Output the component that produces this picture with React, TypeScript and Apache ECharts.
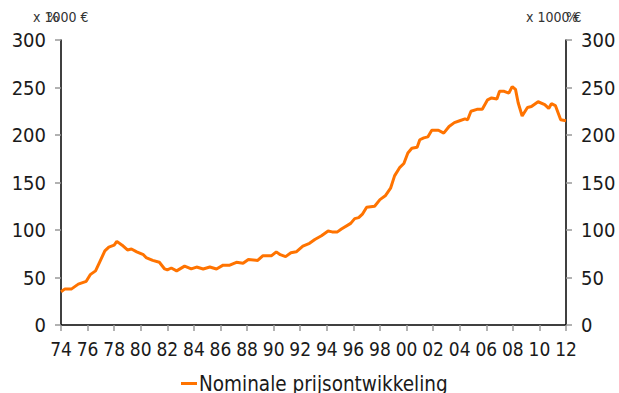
import React, { useEffect, useRef } from "react";
import * as echarts from "echarts";

const periods = [
  1974.0, 1974.3, 1974.8, 1975.3, 1975.9, 1976.2, 1976.6, 1976.9, 1977.3, 1977.6,
  1978.0, 1978.2, 1978.6, 1979.0, 1979.3, 1979.7, 1980.2, 1980.4, 1980.9, 1981.4,
  1981.8, 1982.0, 1982.3, 1982.7, 1983.3, 1983.8, 1984.2, 1984.7, 1985.2, 1985.7,
  1986.2, 1986.7, 1987.2, 1987.7, 1988.1, 1988.8, 1989.2, 1989.85, 1990.2, 1990.5,
  1990.9, 1991.3, 1991.7, 1992.2, 1992.7, 1993.1, 1993.6, 1994.1, 1994.4, 1994.8,
  1995.1, 1995.8, 1996.1, 1996.4, 1996.7, 1997.0, 1997.6, 1998.0, 1998.4, 1998.8,
  1999.1, 1999.5, 1999.8, 2000.1, 2000.4, 2000.8, 2001.0, 2001.3, 2001.6, 2001.9,
  2002.4, 2002.8, 2003.2, 2003.6, 2004.0, 2004.4, 2004.6, 2004.85, 2005.3, 2005.7,
  2006.1, 2006.4, 2006.8, 2007.0, 2007.35, 2007.7, 2007.95, 2008.2, 2008.4, 2008.7,
  2009.1, 2009.4, 2009.9, 2010.4, 2010.7, 2010.9, 2011.2, 2011.6, 2012.0,
];

const prices = [
  35, 38, 38, 43, 46, 53, 57, 66, 78, 82,
  84, 88, 84, 79, 80, 77, 74, 71, 68, 66,
  59, 58, 60, 57, 62, 59, 61, 59, 61, 59,
  63, 63, 66, 65, 69, 68, 73, 73, 77, 74,
  72, 76, 77, 83, 86, 90, 94, 99, 98, 98,
  101, 107, 112, 113, 117, 124, 125, 132, 136, 144,
  157, 166, 170, 181, 186, 187, 195, 197, 198, 205,
  205, 202, 209, 213, 215, 217, 216, 225, 227, 227,
  237, 239, 238, 246, 246, 244, 251, 248, 234, 220,
  229, 230, 235, 232, 228, 233, 231, 216, 215,
];

const seriesName = "Nominale prijsontwikkeling";
const unitLabel = "x 1000 €";
const pctLabel = "%";

export default function App() {
  const ref = useRef<HTMLDivElement>(null);
  useEffect(() => {
    if (!ref.current) return;
    const chart = echarts.init(ref.current, null, { renderer: "svg" });
    const font = "'DejaVu Sans Condensed', 'Liberation Sans', sans-serif";
    const textColor = "#1a1a1a";
    const yAxisCommon = {
      type: "value" as const,
      min: 0,
      max: 300,
      interval: 50,
      splitLine: { show: false },
      axisLine: { show: true, lineStyle: { color: "#000", width: 1.5 } },
      axisTick: { show: true, length: 6, lineStyle: { color: "#999", width: 1.5 } },
      axisLabel: { fontFamily: font, fontSize: 20, color: textColor, margin: 15 },
    };
    chart.setOption({
      animation: false,
      backgroundColor: "#fff",
      grid: { left: 61, right: 53, top: 40, bottom: 68, containLabel: false },
      legend: {
        show: true,
        top: 373,
        left: 181,
        padding: 0,
        itemWidth: 16,
        itemHeight: 3,
        itemGap: 0,
        icon: "rect",
        textStyle: { fontFamily: font, fontSize: 20.5, color: textColor, padding: [0, 0, 0, -3] },
        data: [seriesName],
      },
      xAxis: {
        type: "value",
        min: 1974,
        max: 2012,
        interval: 2,
        splitLine: { show: false },
        axisLine: { show: true, lineStyle: { color: "#000", width: 1.5 } },
        axisTick: { show: true, length: 6, lineStyle: { color: "#999", width: 1.5 } },
        axisLabel: {
          fontFamily: font,
          fontSize: 19,
          color: textColor,
          margin: 14,
          showMinLabel: true,
          showMaxLabel: true,
          formatter: (v: number) => String(Math.round(v) % 100).padStart(2, "0"),
        },
      },
      yAxis: [
        { ...yAxisCommon, position: "left" },
        { ...yAxisCommon, position: "right" },
      ],
      graphic: [
        { type: "text", left: 33, top: 10, style: { text: unitLabel, fontFamily: font, fontSize: 14, fill: "#333" } },
        { type: "text", left: 47, top: 10, style: { text: pctLabel, fontFamily: font, fontSize: 14, fill: "#333" } },
        { type: "text", left: 526, top: 10, style: { text: unitLabel, fontFamily: font, fontSize: 14, fill: "#333" } },
        { type: "text", left: 566, top: 10, style: { text: pctLabel, fontFamily: font, fontSize: 14, fill: "#333" } },
      ],
      series: [
        {
          name: seriesName,
          type: "line",
          yAxisIndex: 0,
          data: periods.map((p, i) => [p, prices[i]]),
          showSymbol: false,
          symbol: "none",
          lineStyle: { color: "#FF7300", width: 3 },
          itemStyle: { color: "#FF7300" },
        },
      ],
    });
    return () => chart.dispose();
  }, []);
  return (
    <div
      ref={ref}
      style={{ position: "absolute", left: 0, top: 0, width: 619, height: 393 }}
    />
  );
}
